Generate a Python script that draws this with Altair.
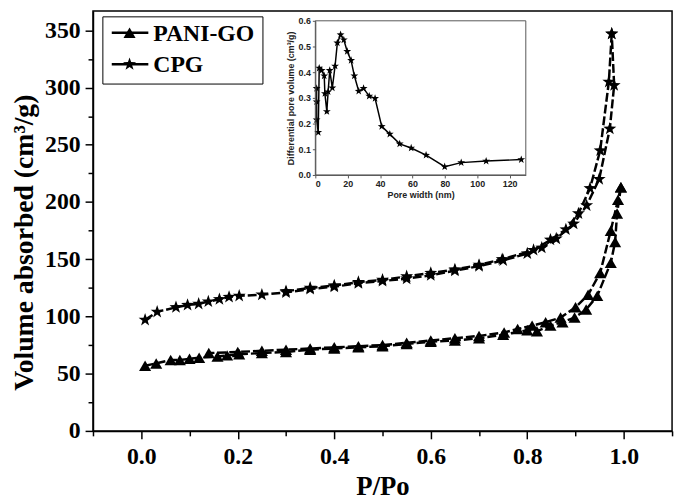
import altair as alt
import pandas as pd

# ---- main isotherm data (P/Po, volume cm3/g) ----
pani_ads_p = [0.008, 0.031, 0.061, 0.080, 0.100, 0.120, 0.158, 0.178, 0.203, 0.250, 0.300, 0.350, 0.400,
              0.450, 0.500, 0.550, 0.600, 0.650, 0.700, 0.750, 0.800, 0.820, 0.848, 0.873, 0.898, 0.922,
              0.945, 0.973, 0.982, 0.986, 0.994]
pani_ads_v = [57, 59, 62, 62, 63, 64, 65, 66, 67, 68, 69, 71, 72, 73, 74, 76, 78, 79, 81, 84, 88, 87, 92,
              95, 99, 106, 118, 147, 165, 190, 213]
pani_des_p = [0.994, 0.988, 0.973, 0.951, 0.926, 0.900, 0.869, 0.838, 0.810, 0.780, 0.752, 0.700, 0.650,
              0.600, 0.550, 0.500, 0.450, 0.400, 0.350, 0.300, 0.250, 0.200, 0.140]
pani_des_v = [213, 202, 175, 138, 119, 108, 99, 95, 92, 89, 86, 83, 81, 79, 77, 75, 74, 73, 72, 71, 70, 69, 68]

cpg_ads_p = [0.008, 0.033, 0.072, 0.096, 0.119, 0.139, 0.162, 0.182, 0.203, 0.250, 0.300, 0.350, 0.400,
             0.450, 0.500, 0.550, 0.600, 0.650, 0.700, 0.750, 0.800, 0.830, 0.860, 0.896, 0.923, 0.949,
             0.971, 0.980, 0.975]
cpg_ads_v = [97, 104, 108, 110, 111, 113, 115, 117, 118, 119, 121, 124, 126, 129, 131, 133, 136, 140, 144,
             149, 155, 160, 168, 181, 197, 220, 264, 302, 347]
cpg_des_p = [0.975, 0.969, 0.951, 0.930, 0.906, 0.880, 0.848, 0.813, 0.748, 0.700, 0.650, 0.600, 0.550,
             0.500, 0.450, 0.400, 0.350, 0.300]
cpg_des_v = [347, 305, 245, 212, 190, 176, 167, 158, 150, 145, 141, 138, 135, 132, 130, 127, 125, 122]

series_names = ["PANI-GO", "CPG"]

# ---- inset: pore size distribution ----
pore_w = [0.8, 0.8, 0.8, 1.8, 2.4, 3.9, 5.5, 5.9, 7.1, 7.9, 8.9, 10.5, 12.2, 13.6, 15.6, 17.6, 19.7, 22.1,
          24.1, 26.8, 29.8, 33.3, 36.9, 41.0, 46.0, 52.1, 59.2, 68.4, 79.9, 90.1, 105.5, 127.2]
pore_v = [0.337, 0.285, 0.215, 0.166, 0.416, 0.407, 0.386, 0.317, 0.247, 0.324, 0.407, 0.339, 0.424, 0.514,
          0.546, 0.526, 0.481, 0.446, 0.386, 0.326, 0.337, 0.307, 0.298, 0.189, 0.159, 0.121, 0.105, 0.077,
          0.032, 0.048, 0.054, 0.060]
inset_x_domain = [0, 130]
inset_y_domain = [0.0, 0.6]

x_ticks = [-0.1, 0.0, 0.1, 0.2, 0.3, 0.4, 0.5, 0.6, 0.7, 0.8, 0.9, 1.0, 1.1]
y_ticks = [0, 25, 50, 75, 100, 125, 150, 175, 200, 225, 250, 275, 300, 325, 350]
inset_x_ticks = [0, 20, 40, 60, 80, 100, 120]
inset_y_ticks = [0.0, 0.1, 0.2, 0.3, 0.4, 0.5, 0.6]

rows = []
for s, b, ps, vs in [("PANI-GO", "ads", pani_ads_p, pani_ads_v), ("PANI-GO", "des", pani_des_p, pani_des_v),
                     ("CPG", "ads", cpg_ads_p, cpg_ads_v), ("CPG", "des", cpg_des_p, cpg_des_v)]:
    for i, (p, v) in enumerate(zip(ps, vs)):
        rows.append({"series": s, "key": s + "-" + b, "p": p, "v": v, "order": i})
df = pd.DataFrame(rows)

inset_df = pd.DataFrame({"w": pore_w, "dv": pore_v, "order": list(range(len(pore_w)))})
frame_df = pd.DataFrame({"w": [inset_x_domain[0]], "w2": [inset_x_domain[1]],
                         "dv": [inset_y_domain[0]], "dv2": [inset_y_domain[1]]})
legend_df = pd.DataFrame({"name": series_names, "row": [0, 1]})
legend_box_df = pd.DataFrame({"box": [1]})

STAR = ("M0,-1L0.235,-0.324L0.951,-0.309L0.380,0.124L0.588,0.809L0,0.4L-0.588,0.809"
        "L-0.380,0.124L-0.951,-0.309L-0.235,-0.324Z")

SERIF = "Liberation Serif"
SANS = "Liberation Sans"

# plot-area geometry (pixels inside the plot area)
PLOT_W, PLOT_H = 586, 425
IN_X0, IN_X1 = 225, 438
IN_Y0, IN_Y1 = 166, 10

x_main = alt.X("p:Q", title="P/Po",
               scale=alt.Scale(domain=[-0.1, 1.1], nice=False, zero=False),
               axis=alt.Axis(values=x_ticks, grid=False,
                             labelExpr="abs(round(datum.value*10)) % 2 == 0 ? format(datum.value, '.1f') : ''",
                             tickSize={"condition": {"test": "abs(round(datum.value*10)) % 2 == 0", "value": 8},
                                       "value": 5},
                             labelOverlap=False, labelFlush=False,
                             labelFont=SERIF, labelFontWeight="bold", labelFontSize=24, labelColor="black",
                             labelPadding=6, tickColor="black", tickWidth=1.5,
                             domainColor="black", domainWidth=1.5,
                             titleFont=SERIF, titleFontWeight="bold", titleFontSize=27, titleColor="black",
                             titlePadding=5))
y_main = alt.Y("v:Q", title="Volume absorbed (cm³/g)",
               scale=alt.Scale(domain=[0, 367], nice=False),
               axis=alt.Axis(values=y_ticks, grid=False,
                             labelExpr="datum.value % 50 == 0 ? format(datum.value, 'd') : ''",
                             tickSize={"condition": {"test": "datum.value % 50 == 0", "value": 8}, "value": 5},
                             labelOverlap=False, labelFlush=False,
                             labelFont=SERIF, labelFontWeight="bold", labelFontSize=24, labelColor="black",
                             labelPadding=5, tickColor="black", tickWidth=1.5,
                             domainColor="black", domainWidth=1.5,
                             titleFont=SERIF, titleFontWeight="bold", titleFontSize=28, titleColor="black",
                             titleX=-69, titleY=234, titleBaseline="middle", titleAlign="center"))

lines = alt.Chart(df).mark_line(color="black", strokeWidth=2.5, strokeDash=[9, 3]).encode(
    x=x_main, y=y_main, detail="key:N", order="order:Q")
tri = alt.Chart(df).transform_filter(alt.datum.series == "PANI-GO").mark_point(
    shape="triangle-up", filled=True, color="black", size=150, opacity=1).encode(x=x_main, y=y_main)
star = alt.Chart(df).transform_filter(alt.datum.series == "CPG").mark_point(
    shape=STAR, filled=True, color="black", size=190, opacity=1).encode(x=x_main, y=y_main)
main = alt.layer(lines, tri, star)

# ---- inset ----
x_in = alt.X("w:Q", title="Pore width (nm)",
             scale=alt.Scale(domain=inset_x_domain, range=[IN_X0, IN_X1], nice=False, zero=False),
             axis=alt.Axis(orient="bottom", offset=-(PLOT_H - IN_Y0), values=inset_x_ticks, grid=False,
                           zindex=1,
                           labelFont=SANS, labelFontWeight="bold", labelFontSize=9, labelColor="#222",
                           tickSize=3, tickColor="#555", domainColor="#555", labelPadding=2,
                           titleFont=SANS, titleFontWeight="bold", titleFontSize=9, titleColor="#222",
                           titlePadding=2))
y_in = alt.Y("dv:Q", title="Differential pore volume (cm³/g)",
             scale=alt.Scale(domain=inset_y_domain, range=[IN_Y0, IN_Y1], nice=False),
             axis=alt.Axis(orient="left", offset=-IN_X0, values=inset_y_ticks, format=".1f", grid=False,
                           zindex=1, labelFont=SANS, labelFontWeight="bold", labelFontSize=9,
                           labelColor="#222", tickSize=3, tickColor="#555", domainColor="#555",
                           labelPadding=2, titleFont=SANS, titleFontWeight="bold", titleFontSize=9,
                           titleColor="#222", titlePadding=3))

frame = alt.Chart(frame_df).mark_rect(fill="white", stroke="#555", strokeWidth=1).encode(
    x=x_in, x2="w2:Q", y=y_in, y2="dv2:Q")
in_line = alt.Chart(inset_df).mark_line(color="black", strokeWidth=1.5).encode(
    x=x_in, y=y_in, order="order:Q")
in_pts = alt.Chart(inset_df).mark_point(shape=STAR, filled=True, color="black", size=70, opacity=1).encode(
    x=x_in, y=y_in)
inset = alt.layer(frame, in_line, in_pts)

# ---- legend (box, line samples, markers, labels) ----
ly = alt.Y("row:Q", scale=alt.Scale(domain=[0, 1], range=[22, 54], nice=False, zero=False), axis=None)
leg_box = alt.Chart(legend_box_df).mark_rect(fill="white", stroke="black", strokeWidth=1).encode(
    x=alt.value(10), x2=alt.value(172), y=alt.value(6), y2=alt.value(74))
leg_rule = alt.Chart(legend_df).mark_rule(color="black", strokeWidth=2.5).encode(
    x=alt.value(19), x2=alt.value(56), y=ly)
leg_pts = alt.Chart(legend_df).mark_point(filled=True, color="black", opacity=1).encode(
    x=alt.value(37), y=ly,
    shape=alt.Shape("name:N", scale=alt.Scale(domain=series_names, range=["triangle-up", STAR]), legend=None),
    size=alt.Size("name:N", scale=alt.Scale(domain=series_names, range=[150, 190]), legend=None))
leg_txt = alt.Chart(legend_df).mark_text(align="left", baseline="middle", font=SERIF, fontWeight="bold",
                                         fontSize=24, color="black", dy=1).encode(
    x=alt.value(61), y=ly, text="name:N")
legend_layer = alt.layer(leg_box, leg_rule, leg_pts, leg_txt)

chart = alt.layer(main, inset, legend_layer).resolve_scale(
    x="independent", y="independent"
).properties(
    width=PLOT_W, height=PLOT_H,
    padding={"left": 86, "top": 0, "right": 5, "bottom": 70},
    autosize=alt.AutoSizeParams(type="none"),
).configure_view(stroke="black", strokeWidth=1.5)

chart.save("out.html", embed_options={"renderer": "svg", "actions": False})
